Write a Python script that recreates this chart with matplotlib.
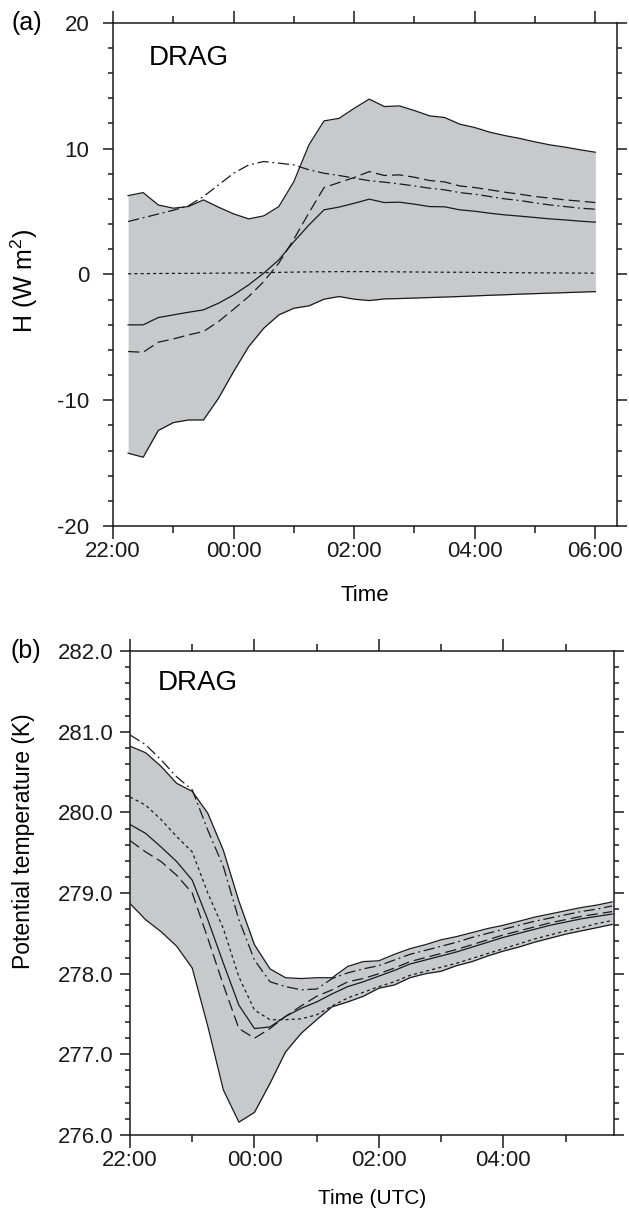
import matplotlib
matplotlib.use("Agg")
import matplotlib.pyplot as plt
from matplotlib.ticker import MultipleLocator, FuncFormatter
import numpy as np

plt.rcParams['font.family'] = ['Liberation Sans', 'DejaVu Sans']
plt.rcParams['axes.unicode_minus'] = False
plt.rcParams['mathtext.fontset'] = 'custom'
plt.rcParams['mathtext.rm'] = 'Liberation Sans'

# ---- panel (a): sensible heat flux, every 15 min from 22:15 to 06:00 ----
t_a = [0.25 * (i + 1) for i in range(32)]  # hours after 22:00

upper_a = [6.26, 6.5, 5.52, 5.26, 5.39, 5.92, 5.34, 4.81, 4.41, 4.65, 5.39, 7.38,
           10.3, 12.2, 12.4, 13.2, 13.93, 13.34, 13.39, 13.02, 12.6, 12.47, 11.94, 11.67,
           11.3, 11.03, 10.8, 10.53, 10.29, 10.11, 9.9, 9.71]
lower_a = [-14.21, -14.53, -12.41, -11.78, -11.57, -11.57, -9.84, -7.72, -5.74, -4.28,
           -3.22, -2.69, -2.5, -1.97, -1.76, -1.97, -2.08, -1.95, -1.92, -1.88, -1.84,
           -1.80, -1.76, -1.71, -1.66, -1.62, -1.57, -1.53, -1.49, -1.45, -1.41, -1.37]
solid_a = [-4.01, -4.01, -3.43, -3.22, -3.01, -2.82, -2.29, -1.63, -0.83, 0.1, 1.15, 2.6,
           3.93, 5.13, 5.35, 5.65, 5.98, 5.71, 5.74, 5.58, 5.39, 5.37, 5.13, 5.02,
           4.86, 4.73, 4.63, 4.52, 4.41, 4.33, 4.23, 4.15]
dashed_a = [-6.13, -6.19, -5.39, -5.13, -4.81, -4.54, -3.75, -2.77, -1.76, -0.57, 0.9, 2.8,
            4.9, 6.9, 7.3, 7.7, 8.17, 7.86, 7.91, 7.72, 7.46, 7.35, 7.03, 6.9,
            6.72, 6.53, 6.37, 6.19, 6.06, 5.92, 5.82, 5.71]
dashdot_a = [4.2, 4.5, 4.8, 5.1, 5.45, 6.19, 7.11, 8.04, 8.7, 8.97, 8.84, 8.7,
             8.31, 8.04, 7.86, 7.65, 7.45, 7.33, 7.19, 7.03, 6.85, 6.72, 6.5, 6.37,
             6.19, 6.0, 5.87, 5.68, 5.52, 5.39, 5.26, 5.18]
dotted_a = [0.05, 0.06, 0.07, 0.08, 0.08, 0.09, 0.1, 0.11, 0.12, 0.14, 0.16, 0.18,
            0.2, 0.21, 0.22, 0.22, 0.22, 0.21, 0.2, 0.19, 0.18, 0.17, 0.17, 0.16,
            0.15, 0.14, 0.13, 0.12, 0.12, 0.11, 0.1, 0.1]

# ---- panel (b): potential temperature, every 15 min from 22:00 to 05:45 ----
t_b = [0.25 * j for j in range(32)]

upper_b = [280.82, 280.74, 280.57, 280.36, 280.26, 279.99, 279.53, 278.9, 278.36, 278.06,
           277.95, 277.94, 277.95, 277.95, 278.09, 278.15, 278.16, 278.24, 278.31, 278.36,
           278.42, 278.46, 278.51, 278.56, 278.60, 278.65, 278.70, 278.74, 278.78, 278.82,
           278.85, 278.89]
lower_b = [278.87, 278.67, 278.52, 278.34, 278.07, 277.35, 276.56, 276.16, 276.28, 276.64,
           277.03, 277.26, 277.43, 277.59, 277.65, 277.72, 277.82, 277.86, 277.95, 278.0,
           278.03, 278.1, 278.15, 278.22, 278.28, 278.33, 278.39, 278.44, 278.49, 278.53,
           278.57, 278.61]
solid_b = [279.85, 279.74, 279.57, 279.39, 279.16, 278.67, 278.13, 277.61, 277.32, 277.34,
           277.47, 277.57, 277.65, 277.75, 277.84, 277.9, 277.97, 278.04, 278.12, 278.17,
           278.22, 278.27, 278.33, 278.39, 278.45, 278.50, 278.55, 278.60, 278.64, 278.68,
           278.71, 278.74]
dashed_b = [279.65, 279.51, 279.39, 279.22, 279.0, 278.44, 277.86, 277.32, 277.2, 277.32,
            277.47, 277.6, 277.72, 277.8, 277.9, 277.94, 278.0, 278.07, 278.15, 278.2,
            278.25, 278.3, 278.36, 278.42, 278.48, 278.53, 278.58, 278.63, 278.67, 278.71,
            278.74, 278.77]
dashdot_b = [280.96, 280.84, 280.65, 280.44, 280.28, 279.78, 279.33, 278.67, 278.17, 277.9,
             277.84, 277.8, 277.81, 277.94, 278.01, 278.06, 278.1, 278.17, 278.24, 278.29,
             278.34, 278.39, 278.45, 278.50, 278.55, 278.60, 278.65, 278.69, 278.73, 278.77,
             278.80, 278.84]
dotted_b = [280.19, 280.09, 279.91, 279.7, 279.51, 279.0, 278.56, 277.96, 277.55, 277.43,
            277.43, 277.44, 277.49, 277.6, 277.7, 277.77, 277.84, 277.9, 277.98, 278.03,
            278.08, 278.13, 278.19, 278.25, 278.31, 278.37, 278.43, 278.48, 278.53, 278.57,
            278.62, 278.66]

FILL = '#c8c9cc'
INK = '#1a1a1a'
LW = 0.9
styles = {
    'solid': '-',
    'dashed': (0, (9, 4)),
    'dashdot': (0, (9, 3, 1.5, 3)),
    'dotted': (0, (2.5, 2.5)),
}


def hour_label(x, pos):
    return '%02d:00' % ((22 + int(round(x))) % 24)


def style_axes(ax, ypad):
    for s in ax.spines.values():
        s.set_linewidth(1.1)
        s.set_color(INK)
    ax.xaxis.set_major_locator(MultipleLocator(2))
    ax.xaxis.set_minor_locator(MultipleLocator(1))
    ax.xaxis.set_major_formatter(FuncFormatter(hour_label))
    ax.tick_params(which='both', direction='out', top=True, right=True,
                   colors=INK, width=1.1, labelsize=16)
    ax.tick_params(axis='x', which='major', length=9, pad=2)
    ax.tick_params(axis='x', which='minor', length=5)
    ax.tick_params(axis='y', which='major', length=7, pad=ypad)
    ax.tick_params(axis='y', which='minor', length=3.5)


def draw(ax, t, lo, hi, solid, dashed, dashdot, dotted):
    ax.fill_between(t, lo, hi, color=FILL, lw=0)
    ax.plot(t, hi, color=INK, lw=LW, ls=styles['solid'])
    ax.plot(t, lo, color=INK, lw=LW, ls=styles['solid'])
    ax.plot(t, solid, color=INK, lw=LW, ls=styles['solid'])
    ax.plot(t, dashed, color=INK, lw=LW, ls=styles['dashed'])
    ax.plot(t, dashdot, color=INK, lw=LW, ls=styles['dashdot'])
    ax.plot(t, dotted, color=INK, lw=LW, ls=styles['dotted'])


fig = plt.figure(figsize=(6.29, 12.16), dpi=100)

ax1 = fig.add_axes([0.1797, 0.5674, 0.981 - 0.1797, 0.9813 - 0.5674])
draw(ax1, t_a, lower_a, upper_a, solid_a, dashed_a, dashdot_a, dotted_a)
ax1.set_xlim(0, 8.36)
ax1.set_ylim(-20, 20)
ax1.yaxis.set_major_locator(MultipleLocator(10))
ax1.yaxis.set_minor_locator(MultipleLocator(2))
style_axes(ax1, ypad=10)
ax1.set_xlabel('Time', fontsize=16)
ax1.xaxis.set_label_coords(0.5, -0.117)
ax1.set_ylabel('H (W m$^2$)', fontsize=18)
ax1.yaxis.set_label_coords(-0.145, 0.487)
ax1.text(0.07, 0.93, 'DRAG', transform=ax1.transAxes, fontsize=20, va='center')
fig.text(0.019, 0.9813, '(a)', fontsize=18, va='center')

ax2 = fig.add_axes([0.2067, 0.0666, 0.9762 - 0.2067, 0.4646 - 0.0666])
draw(ax2, t_b, lower_b, upper_b, solid_b, dashed_b, dashdot_b, dotted_b)
ax2.set_xlim(0, 7.78)
ax2.set_ylim(276, 282)
ax2.yaxis.set_major_locator(MultipleLocator(1))
ax2.yaxis.set_minor_locator(MultipleLocator(0.2))
ax2.yaxis.set_major_formatter(FuncFormatter(lambda v, p: '%.1f' % v))
style_axes(ax2, ypad=5)
ax2.set_xlabel('Time (UTC)', fontsize=15)
ax2.xaxis.set_label_coords(0.5, -0.111)
ax2.set_ylabel('Potential temperature (K)', fontsize=16.5)
ax2.yaxis.set_label_coords(-0.196, 0.607)
ax2.text(0.058, 0.935, 'DRAG', transform=ax2.transAxes, fontsize=20, va='center')
fig.text(0.016, 0.4646, '(b)', fontsize=18, va='center')

fig.savefig('out.png', dpi=100)
